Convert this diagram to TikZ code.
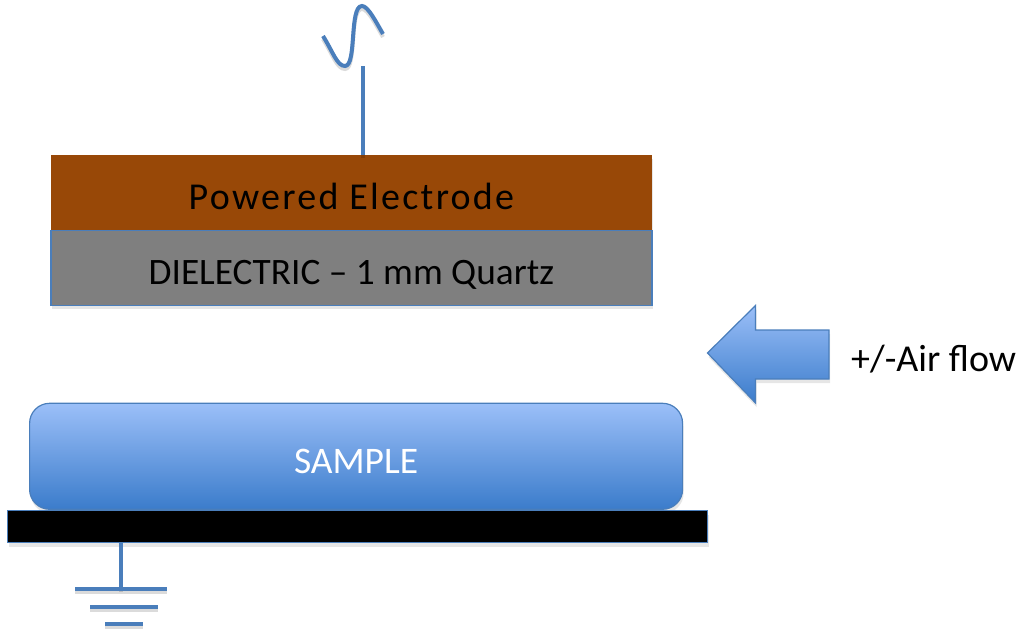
\documentclass[tikz,border=0pt]{standalone}
\usepackage{fontspec}
\setmainfont{Carlito}
\newfontfamily\spacedfont[LetterSpace=6]{Carlito}
\usetikzlibrary{shadows}
\definecolor{linkblue}{HTML}{4A7EBB}
\definecolor{copperbrown}{HTML}{984807}
\definecolor{quartzgray}{HTML}{7F7F7F}
\definecolor{sampletop}{HTML}{9BBFF8}
\definecolor{samplebot}{HTML}{3B7CCB}
\tikzset{
    softshadow/.style={drop shadow={opacity=0.2, shadow xshift=1pt, shadow yshift=-4pt}},
    block/.style={draw=linkblue, line width=1.2pt, anchor=north west, inner sep=0pt, softshadow},
    labelled/.style={text height=34pt, text depth=0pt},
    wire/.style={draw=linkblue, line width=4pt},
    wireshadow/.style={draw=black, opacity=0.14, line width=4pt, transform canvas={yshift=-3pt}},
    bluegrad/.style={top color=sampletop, bottom color=samplebot},
}
\begin{document}
\begin{tikzpicture}[x=1pt,y=-1pt]
    \useasboundingbox (0,0) rectangle (1031,637);

    % electrode stack
    \node[block, labelled, draw=none, fill=copperbrown, minimum width=601pt, minimum height=75pt, font=\fontsize{38}{42}\spacedfont]
        (electrode) at (50.3,154.5) {Powered Electrode};
    \node[block, labelled, fill=quartzgray, minimum width=601pt, minimum height=75pt, font=\fontsize{37.3}{42}\selectfont]
        (quartz) at (50.3,229.8) {DIELECTRIC -- 1 mm Quartz};

    % sample on grounded plate
    \node[block, labelled, bluegrad, rounded corners=20pt, minimum width=653pt, minimum height=106pt,
        text=white, font=\fontsize{37.5}{42}\selectfont] (sample) at (29,402.7) {SAMPLE};
    \node[block, fill=black, minimum width=700pt, minimum height=32pt] (plate) at (7,510) {};

    % rf source above the electrode
    \coordinate (feed) at (363,66);
    \draw[wireshadow] (feed) -- (feed |- electrode.north);
    \draw[wire] (feed) -- (feed |- electrode.north);
    \draw[wireshadow] (323,36) .. controls (333,52) and (337,66) .. (345,66)
        .. controls (357,66) and (349,6) .. (362,6) .. controls (368,6) and (376,22) .. (383,34);
    \draw[wire] (323,36) .. controls (333,52) and (337,66) .. (345,66)
        .. controls (357,66) and (349,6) .. (362,6) .. controls (368,6) and (376,22) .. (383,34);

    % ground symbol
    \coordinate (gnd) at (121,589);
    \draw[wireshadow] (gnd) -- (gnd |- plate.south);
    \draw[wire] (gnd) -- (gnd |- plate.south);
    \foreach \gl/\gr/\gy in {75/167/589, 90/158/607, 105/143/624} {
        \draw[wireshadow] (\gl,\gy) -- (\gr,\gy);
        \draw[wire] (\gl,\gy) -- (\gr,\gy);
    }

    % air flow arrow and label
    \draw[draw=linkblue, line width=1.2pt, bluegrad, softshadow]
        (707.5,353) -- (755.5,305.5) -- (755.5,330) -- (829,330) -- (829,379) -- (755.5,379) -- (755.5,403) -- cycle;
    \node[anchor=west, inner sep=0pt, font=\fontsize{38}{42}\selectfont] (airflow) at (851,359) {+/-Air flow};
\end{tikzpicture}
\end{document}
